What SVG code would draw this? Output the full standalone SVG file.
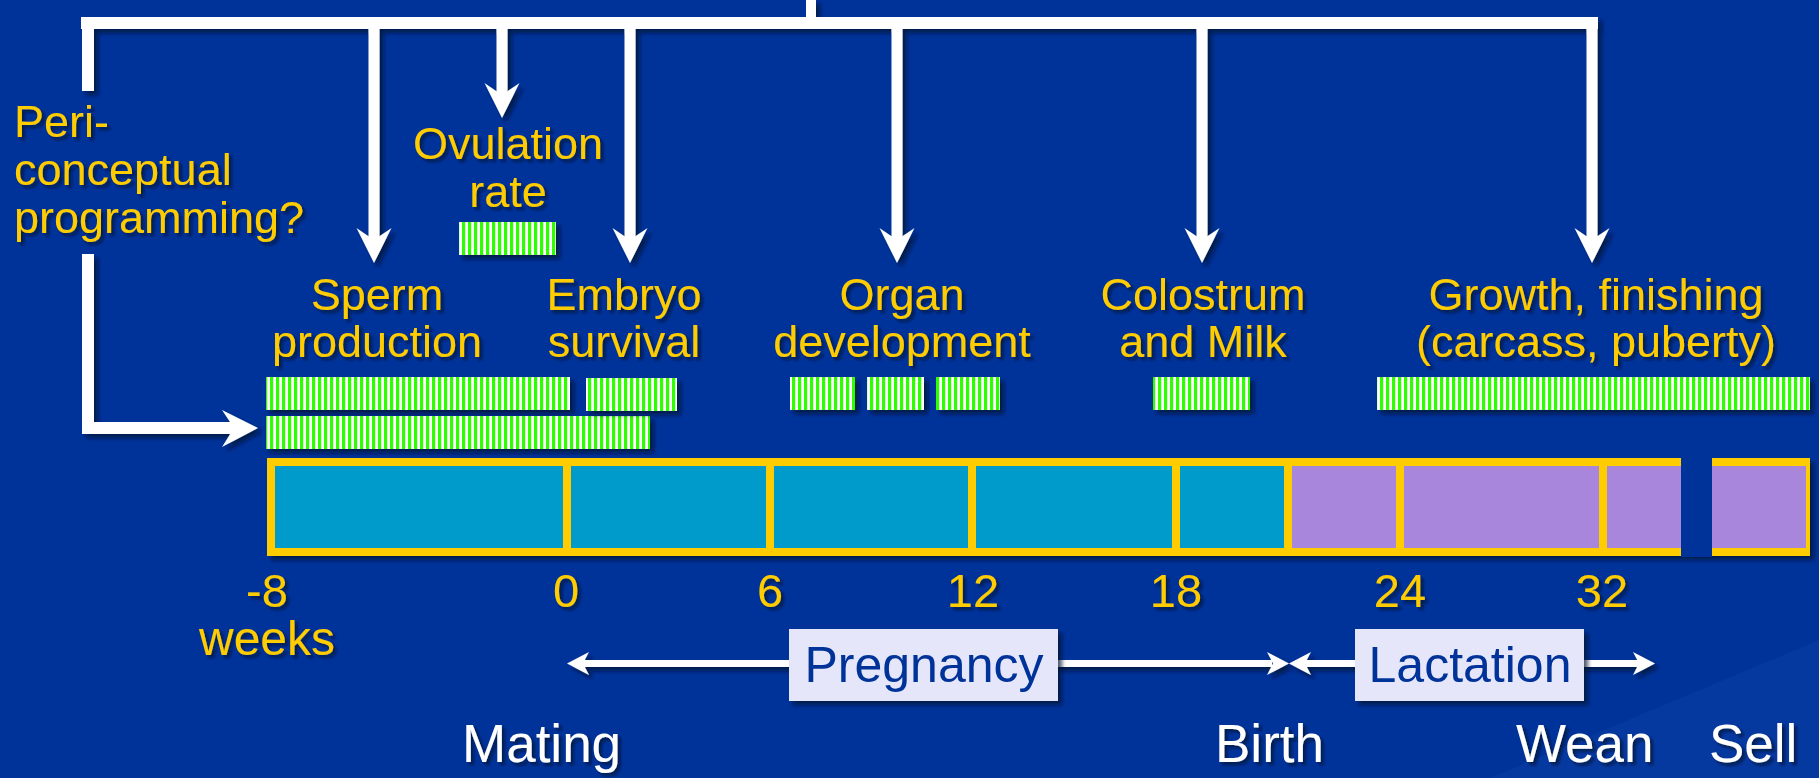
<svg xmlns="http://www.w3.org/2000/svg" width="1819" height="778" viewBox="0 0 1819 778">
<defs>
<style>
.lbl{font-family:"Liberation Sans",Arial,sans-serif;font-size:45px;fill:#FFCC00;text-anchor:middle}
.num{font-family:"Liberation Sans",Arial,sans-serif;font-size:47px;fill:#FFCC00;text-anchor:middle}
.evt{font-family:"Liberation Sans",Arial,sans-serif;font-size:53px;fill:#FFFFFF}
.box{fill:#E6E6FA}
.boxt{font-family:"Liberation Sans",Arial,sans-serif;font-size:50px;fill:#003399;text-anchor:middle}
.wh{fill:#FFFFFF}
.bar{fill:url(#stripes)}
</style>
<pattern id="stripes" width="6" height="40" patternUnits="userSpaceOnUse">
<rect width="6" height="40" fill="#FFFFFF"/>
<rect width="3.2" height="40" fill="#2EFF00"/>
</pattern>
<filter id="sh" x="-5%" y="-20%" width="115%" height="160%">
<feDropShadow dx="4" dy="4" stdDeviation="2" flood-color="#00102e" flood-opacity="0.7"/>
</filter>
<filter id="tsh" x="-5%" y="-20%" width="115%" height="160%">
<feDropShadow dx="3" dy="3" stdDeviation="1.5" flood-color="#00102e" flood-opacity="0.7"/>
</filter>
</defs>
<rect width="1819" height="778" fill="#003399"/>
<polygon points="1490,778 1819,640 1819,778" fill="#0a3ea3" opacity="0.6"/>

<g id="connectors" filter="url(#sh)">
<rect class="wh" x="806" y="0" width="10" height="18"/>
<rect class="wh" x="81" y="17" width="1517" height="12"/>
<rect class="wh" x="82" y="17" width="12" height="74"/>
<rect class="wh" x="82" y="254" width="12" height="180"/>
<rect class="wh" x="82" y="422" width="152" height="12"/>
<path class="wh" d="M222,410 L258,428 L222,447 L234,428 Z"/>
<rect class="wh" x="368.5" y="29" width="11" height="211"/>
<path class="wh" d="M356.5,228 L374,263 L391.5,228 L374,240 Z"/>
<rect class="wh" x="496.5" y="29" width="11" height="66"/>
<path class="wh" d="M484.5,83 L502,118 L519.5,83 L502,95 Z"/>
<rect class="wh" x="624.5" y="29" width="11" height="211"/>
<path class="wh" d="M612.5,228 L630,263 L647.5,228 L630,240 Z"/>
<rect class="wh" x="891.5" y="29" width="11" height="211"/>
<path class="wh" d="M879.5,228 L897,263 L914.5,228 L897,240 Z"/>
<rect class="wh" x="1196.5" y="29" width="11" height="211"/>
<path class="wh" d="M1184.5,228 L1202,263 L1219.5,228 L1202,240 Z"/>
<rect class="wh" x="1586.5" y="29" width="11" height="211"/>
<path class="wh" d="M1574.5,228 L1592,263 L1609.5,228 L1592,240 Z"/>
<rect class="wh" x="582" y="660" width="690" height="7"/>
<path class="wh" d="M567,663.5 L589,652 L583,663.5 L589,675 Z"/>
<path class="wh" d="M1289,663.5 L1267,652 L1273,663.5 L1267,675 Z"/>
<rect class="wh" x="1305" y="660" width="335" height="7"/>
<path class="wh" d="M1289,663.5 L1311,652 L1305,663.5 L1311,675 Z"/>
<path class="wh" d="M1655,663.5 L1633,652 L1639,663.5 L1633,675 Z"/>
</g>

<g id="peri">
<text class="lbl" style="text-anchor:start" filter="url(#tsh)"><tspan x="14" y="137">Peri-</tspan><tspan x="14" y="185">conceptual</tspan><tspan x="14" y="233">programming?</tspan></text>
</g>

<g id="ovulation">
<text class="lbl" filter="url(#tsh)"><tspan x="508" y="159">Ovulation</tspan><tspan x="508" y="207">rate</tspan></text>
<rect class="bar" x="459" y="222" width="97" height="33" filter="url(#sh)"/>
</g>

<g id="sperm">
<text class="lbl" filter="url(#tsh)"><tspan x="377" y="310">Sperm</tspan><tspan x="377" y="357">production</tspan></text>
<rect class="bar" x="266" y="377" width="304" height="33" filter="url(#sh)"/>
</g>

<g id="periconceptual-bar">
<rect class="bar" x="266" y="416" width="384" height="33" filter="url(#sh)"/>
</g>

<g id="embryo">
<text class="lbl" filter="url(#tsh)"><tspan x="624" y="310">Embryo</tspan><tspan x="624" y="357">survival</tspan></text>
<rect class="bar" x="586" y="378" width="91" height="33" filter="url(#sh)"/>
</g>

<g id="organ">
<text class="lbl" filter="url(#tsh)"><tspan x="902" y="310">Organ</tspan><tspan x="902" y="357">development</tspan></text>
<rect class="bar" x="790" y="377" width="65" height="33" filter="url(#sh)"/>
<rect class="bar" x="867" y="377" width="57" height="33" filter="url(#sh)"/>
<rect class="bar" x="936" y="377" width="64" height="33" filter="url(#sh)"/>
</g>

<g id="colostrum">
<text class="lbl" filter="url(#tsh)"><tspan x="1203" y="310">Colostrum</tspan><tspan x="1203" y="357">and Milk</tspan></text>
<rect class="bar" x="1153" y="377" width="97" height="33" filter="url(#sh)"/>
</g>

<g id="growth">
<text class="lbl" filter="url(#tsh)"><tspan x="1596" y="310">Growth, finishing</tspan><tspan x="1596" y="357">(carcass, puberty)</tspan></text>
<rect class="bar" x="1377" y="377" width="433" height="33" filter="url(#sh)"/>
</g>

<g id="timeline">
<g filter="url(#sh)">
<rect x="267" y="458" width="1543" height="98" fill="#FFCC00"/>
</g>
<rect x="275" y="466" width="1013" height="82" fill="#009BCB"/>
<rect x="1288" y="466" width="518" height="82" fill="#A886DC"/>
<g fill="#FFCC00">
<rect x="563" y="462" width="8" height="90"/>
<rect x="766" y="462" width="8" height="90"/>
<rect x="968" y="462" width="8" height="90"/>
<rect x="1172" y="462" width="8" height="90"/>
<rect x="1284" y="462" width="8" height="90"/>
<rect x="1396" y="462" width="8" height="90"/>
<rect x="1599" y="462" width="8" height="90"/>
</g>
<rect x="1681" y="448" width="31" height="109" fill="#003399"/>
</g>

<g id="scale" filter="url(#tsh)">
<text class="num"><tspan x="267" y="607">-8</tspan><tspan x="267" y="655" style="font-size:48px">weeks</tspan></text>
<text class="num" x="566" y="607">0</text>
<text class="num" x="770" y="607">6</text>
<text class="num" x="973" y="607">12</text>
<text class="num" x="1176" y="607">18</text>
<text class="num" x="1400" y="607">24</text>
<text class="num" x="1602" y="607">32</text>
</g>

<g id="pregnancy">
<rect class="box" x="789" y="629" width="269" height="72" filter="url(#sh)"/>
<text class="boxt" x="924" y="682">Pregnancy</text>
</g>

<g id="lactation">
<rect class="box" x="1355" y="629" width="229" height="72" filter="url(#sh)"/>
<text class="boxt" x="1470" y="682">Lactation</text>
</g>

<g id="events" filter="url(#tsh)">
<text class="evt" x="462" y="762">Mating</text>
<text class="evt" x="1215" y="762">Birth</text>
<text class="evt" x="1516" y="762">Wean</text>
<text class="evt" x="1709" y="762">Sell</text>
</g>
</svg>
